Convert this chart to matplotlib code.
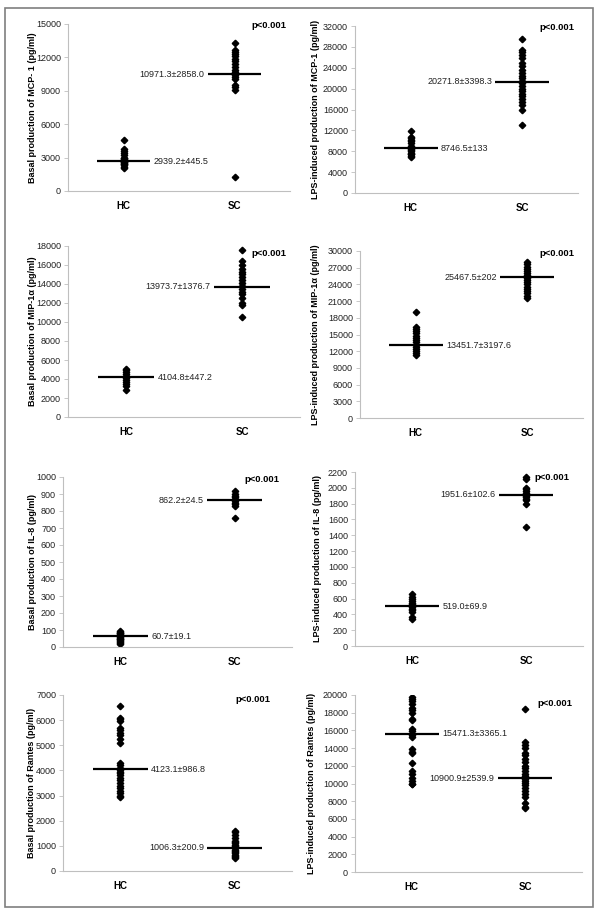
import matplotlib
matplotlib.use("Agg")
import matplotlib.pyplot as plt
from matplotlib.patches import Rectangle

plt.rcParams['font.family'] = ['Liberation Sans', 'DejaVu Sans']

categories = ["HC", "SC"]

# ---- data (pg/ml) ----
mcp1_basal_hc = [4600, 3800, 3600, 3400, 3200, 3000, 2900, 2800, 2700, 2600, 2500, 2400,
                 2300, 2200, 2100, 2600, 2800, 3000, 2450]
mcp1_basal_sc = [13300, 12700, 12500, 12300, 12100, 11900, 11700, 11400, 11100, 10900,
                 10700, 10400, 10200, 10100, 9500, 9300, 9100, 1300]
mcp1_basal_line = [2650, 10500]
mcp1_basal_txt = ["2939.2±445.5", "10971.3±2858.0"]

mcp1_lps_hc = [11900, 10800, 10500, 10200, 9900, 9500, 9000, 8700, 8300, 8000, 7700,
               7400, 7100, 6900, 8500, 7500]
mcp1_lps_sc = [29600, 27400, 27000, 26400, 25800, 25000, 24300, 23600, 23000, 22500,
               22000, 21500, 21000, 20500, 20000, 19500, 19000, 18500, 18000, 17400,
               16900, 16000, 13000]
mcp1_lps_line = [8600, 21300]
mcp1_lps_txt = ["8746.5±133", "20271.8±3398.3"]

mip_basal_hc = [5100, 4900, 4700, 4500, 4300, 4100, 3900, 3700, 3500, 3300, 2800]
mip_basal_sc = [17600, 16400, 16000, 15600, 15300, 15000, 14700, 14400, 14100, 13800,
                13500, 13200, 12900, 12500, 12000, 11800, 10500]
mip_basal_line = [4200, 13700]
mip_basal_txt = ["4104.8±447.2", "13973.7±1376.7"]

mip_lps_hc = [19000, 16300, 16000, 15600, 15200, 14800, 14400, 14000, 13600, 13200,
              12800, 12400, 12000, 11600, 11300]
mip_lps_sc = [28000, 27600, 27200, 26800, 26400, 26000, 25600, 25200, 24800, 24400,
              24000, 23600, 23200, 22800, 22400, 22000, 21600]
mip_lps_line = [13100, 25300]
mip_lps_txt = ["13451.7±3197.6", "25467.5±202"]

il8_basal_hc = [95, 90, 85, 80, 75, 70, 65, 60, 55, 50, 45, 40, 35, 30, 25, 20]
il8_basal_sc = [915, 900, 890, 880, 870, 860, 850, 840, 830, 760]
il8_basal_line = [62, 862]
il8_basal_txt = ["60.7±19.1", "862.2±24.5"]

il8_lps_hc = [660, 620, 590, 570, 550, 530, 510, 490, 470, 450, 430, 370, 340]
il8_lps_sc = [2140, 2110, 2000, 1980, 1960, 1940, 1920, 1900, 1880, 1860, 1840, 1800, 1500]
il8_lps_line = [500, 1910]
il8_lps_txt = ["519.0±69.9", "1951.6±102.6"]

rantes_basal_hc = [6550, 6100, 6050, 5950, 5700, 5600, 5500, 5400, 5250, 5100, 4300,
                   4200, 4100, 4000, 3950, 3900, 3800, 3700, 3600, 3500, 3400, 3300,
                   3200, 3100, 3000, 2950]
rantes_basal_sc = [1600, 1550, 1450, 1300, 1200, 1150, 1100, 1050, 1000, 950, 900, 850,
                   800, 750, 700, 650, 600, 550, 500]
rantes_basal_line = [4050, 930]
rantes_basal_txt = ["4123.1±986.8", "1006.3±200.9"]

rantes_lps_hc = [19800, 19600, 19300, 19000, 18500, 18300, 18000, 17300, 17200, 16200,
                 15900, 15500, 15300, 13900, 13600, 13400, 12300, 11400, 11100, 10600,
                 10300, 10000, 9900]
rantes_lps_sc = [18400, 14700, 14300, 14000, 13500, 13200, 12800, 12400, 12000, 11700,
                 11400, 11100, 10800, 10500, 10300, 10100, 9800, 9500, 9200, 8800, 8500,
                 7800, 7300, 7200]
rantes_lps_line = [15600, 10600]
rantes_lps_txt = ["15471.3±3365.1", "10900.9±2539.9"]

ylabels = ["Basal production of MCP- 1 (pg/ml)",
           "LPS-induced production of MCP-1 (pg/ml)",
           "Basal production of MIP-1α (pg/ml)",
           "LPS-induced production of MIP-1α (pg/ml)",
           "Basal production of IL-8 (pg/ml)",
           "LPS-induced production of IL-8 (pg/ml)",
           "Basal production of Rantes (pg/ml)",
           "LPS-induced production of Rantes (pg/ml)"]
ymax = [15000, 32000, 18000, 30000, 1000, 2200, 7000, 20000]
ystep = [3000, 4000, 2000, 3000, 100, 200, 1000, 2000]
pvalue = "p<0.001"

panels = [
    (mcp1_basal_hc, mcp1_basal_sc, mcp1_basal_line, mcp1_basal_txt),
    (mcp1_lps_hc, mcp1_lps_sc, mcp1_lps_line, mcp1_lps_txt),
    (mip_basal_hc, mip_basal_sc, mip_basal_line, mip_basal_txt),
    (mip_lps_hc, mip_lps_sc, mip_lps_line, mip_lps_txt),
    (il8_basal_hc, il8_basal_sc, il8_basal_line, il8_basal_txt),
    (il8_lps_hc, il8_lps_sc, il8_lps_line, il8_lps_txt),
    (rantes_basal_hc, rantes_basal_sc, rantes_basal_line, rantes_basal_txt),
    (rantes_lps_hc, rantes_lps_sc, rantes_lps_line, rantes_lps_txt),
]

# ---- layout (pixels) ----
W, H = 600, 914
# left, right, top, bottom
boxes = [(68, 290, 24, 191), (355, 578, 26, 193),
         (68, 300, 246, 417), (360, 583, 251, 418),
         (63, 292, 477, 647), (355, 583, 472, 646),
         (63, 292, 695, 871), (355, 582, 695, 872)]
ylab_x = [33, 315, 33, 315, 33, 317, 32, 312]
p_pos = [(269, 26), (557, 27), (269, 253), (557, 253),
         (262, 480), (552, 477), (253, 700), (555, 703)]

fig = plt.figure(figsize=(W / 100, H / 100), dpi=100)
fig.patches.append(Rectangle((5 / W, 1 - 907 / H), 588 / W, 899 / H,
                             transform=fig.transFigure, fill=False,
                             edgecolor="#7f7f7f", linewidth=1.2))

axis_col = "#bfbfbf"
for i, (hc, sc, line, txt) in enumerate(panels):
    l, r, t, b = boxes[i]
    ax = fig.add_axes([l / W, 1 - b / H, (r - l) / W, (b - t) / H])
    for k, vals in enumerate([hc, sc]):
        ax.plot([k + 1] * len(vals), vals, linestyle="none", marker="D",
                markersize=3.3, color="black")
        ax.plot([k + 1 - 0.24, k + 1 + 0.24], [line[k], line[k]],
                color="black", linewidth=1.6, solid_capstyle="butt")
    ax.text(1 + 0.27, line[0], txt[0], ha="left", va="center", fontsize=6.5,
            color="#222222")
    ax.text(2 - 0.27, line[1], txt[1], ha="right", va="center", fontsize=6.5,
            color="#222222")
    ax.set_xlim(0.5, 2.5)
    ax.set_ylim(0, ymax[i])
    ax.set_yticks(range(0, ymax[i] + 1, ystep[i]))
    ax.set_xticks([1, 2])
    ax.set_xticklabels(categories, fontweight="bold", fontsize=7)
    ax.tick_params(axis="x", length=0, pad=7)
    ax.tick_params(axis="y", length=3, width=0.6, color=axis_col, labelsize=6.5,
                   pad=2, labelcolor="#222222")
    for s in ["top", "right"]:
        ax.spines[s].set_visible(False)
    for s in ["left", "bottom"]:
        ax.spines[s].set_color(axis_col)
        ax.spines[s].set_linewidth(0.8)
    ax.patch.set_alpha(0)
    fig.text(ylab_x[i] / W, 1 - ((t + b) / 2) / H, ylabels[i], rotation=90,
             ha="center", va="center", fontsize=6.5, fontweight="bold")
    px, py = p_pos[i]
    fig.text(px / W, 1 - py / H, pvalue, ha="center", va="center",
             fontsize=6.8, fontweight="bold")

fig.savefig("out.png", dpi=100, facecolor="white")
